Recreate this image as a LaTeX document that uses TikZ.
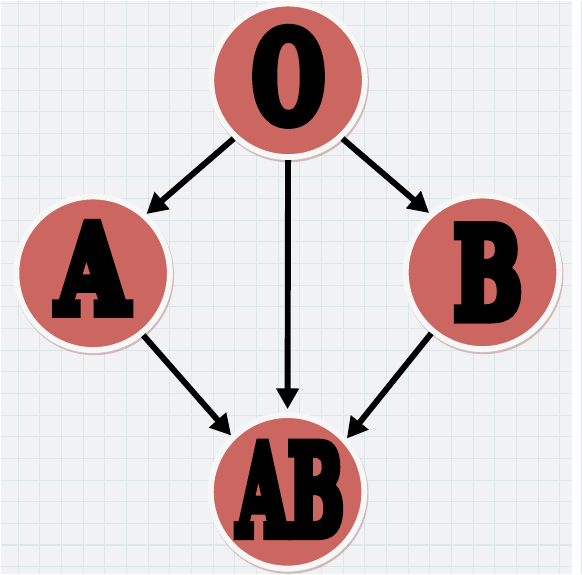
\documentclass[tikz,border=0pt]{standalone}
\usepackage{fontspec}
\usetikzlibrary{arrows.meta,shadows}
\newfontface\heavyface{DejaVu Serif Bold}[FakeBold=9.5]
\definecolor{paper}{HTML}{F0F2F3}
\definecolor{gridline}{HTML}{DEE6E9}
\definecolor{bloodred}{HTML}{CC6660}
\definecolor{rim}{HTML}{F8F7F7}
\definecolor{rimshade}{HTML}{9A5552}
% a letter stretched to a given width and height (in pt)
\newcommand{\glyph}[3]{\resizebox{#1pt}{#2pt}{\fontsize{100}{100}\selectfont\heavyface #3}}

\begin{document}
\begin{tikzpicture}[x=1pt,y=-1pt,
  group/.style={circle, minimum size=156pt, inner sep=0pt, line width=6pt,
    draw=rim, fill=bloodred,
    drop shadow={opacity=0.35, shadow xshift=1pt, shadow yshift=-2pt,
      shadow scale=1.04, fill=rimshade}},
  letter/.style={inner sep=0pt, text=black},
  flow/.style={line width=6pt, -{Triangle[length=21pt,width=22pt]}}]

% graph paper
\fill[paper] (0,0) rectangle (580,582);
\foreach \k in {0,...,26} {
  \draw[gridline, line width=1.1pt] ({18+22*\k},0) -- ({18+22*\k},582);
}
\foreach \k in {0,...,26} {
  \draw[gridline, line width=1.1pt] (0,{3+22*\k}) -- (580,{3+22*\k});
}
\useasboundingbox (0,0) rectangle (580,582);

% blood groups
\node[group] (O)  at (292,81)    {};
\node[group] (A)  at (94,277)    {};
\node[group] (B)  at (489.5,276) {};
\node[group] (AB) at (291.5,499) {};

\node[letter] (Otxt)  at (292.5,77)  {\glyph{73}{93}{O}};
\node[letter] (Atxt)  at (93.5,272)  {\glyph{72}{89}{A}};
\node[letter] (Btxt)  at (495,276)   {\glyph{69}{92}{B}};
\node[letter] (ABtxt) at (294.5,496.5) {\glyph{108}{91}{AB}};

% inheritance arrows
\draw[flow] (O.227.4) -- (A.48.9);
\draw[flow] (O.313)   -- (B.132.8);
\draw[flow, shorten >=3pt] (O.south) -- (AB.north);
\draw[flow] (A.309.5) -- (AB.135.3);
\draw[flow] (B.230.9) -- (AB.42.7);
\end{tikzpicture}
\end{document}
